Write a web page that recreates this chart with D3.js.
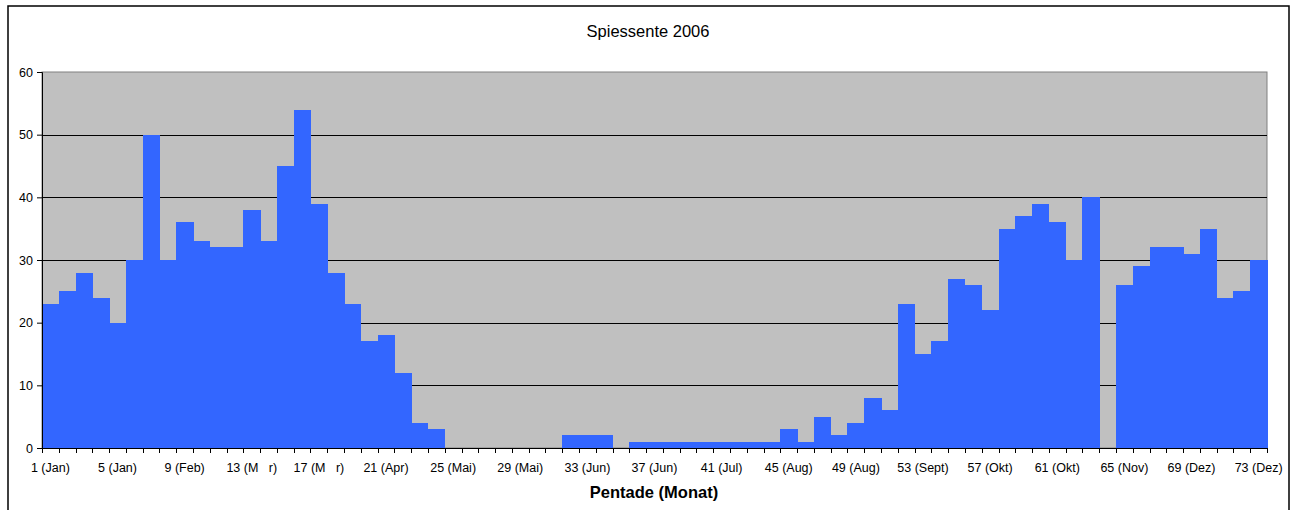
<!DOCTYPE html>
<html>
<head>
<meta charset="utf-8">
<script src="https://cdn.jsdelivr.net/npm/d3@7"></script>
<style>
  body { margin: 0; background: #fff; }
  svg { font-family: "Liberation Sans", Arial, sans-serif; }
</style>
</head>
<body>
<svg id="chart"></svg>
<script>
const pentads = d3.range(1, 74);
const counts = [23, 25, 28, 24, 20, 30, 50, 30, 36, 33, 32, 32, 38, 33, 45, 54, 39, 28, 23, 17,
  18, 12, 4, 3, 0, 0, 0, 0, 0, 0, 0, 2, 2, 2, 0, 1, 1, 1, 1, 1,
  1, 1, 1, 1, 3, 1, 5, 2, 4, 8, 6, 23, 15, 17, 27, 26, 22, 35, 37, 39,
  36, 30, 40, 0, 26, 29, 32, 32, 31, 35, 24, 25, 30];
const tickLabels = {
  1: "1 (Jan)", 5: "5 (Jan)", 9: "9 (Feb)", 13: "13 (M\u00a0\u00a0\u00a0r)", 17: "17 (M\u00a0\u00a0\u00a0r)",
  21: "21 (Apr)", 25: "25 (Mai)", 29: "29 (Mai)", 33: "33 (Jun)", 37: "37 (Jun)",
  41: "41 (Jul)", 45: "45 (Aug)", 49: "49 (Aug)", 53: "53 (Sept)", 57: "57 (Okt)",
  61: "61 (Okt)", 65: "65 (Nov)", 69: "69 (Dez)", 73: "73 (Dez)"
};
const yTicks = [0, 10, 20, 30, 40, 50, 60];

const width = 1295;
const height = 510;
const plot = { left: 42, right: 1267, top: 72, bottom: 448 };

const svg = d3.select("#chart").attr("width", width).attr("height", height);

// outer chart frame (bottom edge is cut off)
svg.append("path")
  .attr("d", `M8,${height} V6 H1289 V${height}`)
  .attr("fill", "none")
  .attr("stroke", "#000")
  .attr("stroke-width", 1.5);

svg.append("text")
  .attr("x", 648).attr("y", 37)
  .attr("text-anchor", "middle")
  .attr("font-size", 16.5)
  .text("Spiessente 2006");

const xScale = d3.scaleBand()
  .domain(pentads)
  .range([plot.left, plot.right])
  .padding(0);

const yScale = d3.scaleLinear()
  .domain([0, 60])
  .range([plot.bottom, plot.top]);

svg.append("rect")
  .attr("x", plot.left).attr("y", plot.top)
  .attr("width", plot.right - plot.left).attr("height", plot.bottom - plot.top)
  .attr("fill", "#c0c0c0")
  .attr("stroke", "#808080");

svg.append("g")
  .selectAll("line")
  .data(yTicks.filter((d) => d > 0 && d < 60))
  .enter()
  .append("line")
  .attr("x1", plot.left).attr("x2", plot.right)
  .attr("y1", (d) => Math.round(yScale(d)) + 0.5)
  .attr("y2", (d) => Math.round(yScale(d)) + 0.5)
  .attr("stroke", "#000");

svg.append("g")
  .attr("shape-rendering", "crispEdges")
  .selectAll("rect")
  .data(counts)
  .enter()
  .append("rect")
  .attr("x", (d, i) => xScale(pentads[i]))
  .attr("y", (d) => yScale(d))
  .attr("width", xScale.bandwidth() + 0.5)
  .attr("height", (d) => plot.bottom - yScale(d))
  .attr("fill", "#3366ff");

// y axis
const yAxis = d3.axisLeft(yScale).tickValues(yTicks).tickSize(5).tickPadding(4);
const gy = svg.append("g")
  .attr("transform", `translate(${plot.left}, 0)`)
  .call(yAxis);
gy.selectAll("path, line").attr("stroke", "#000");
gy.selectAll("text").attr("font-size", 12.5).attr("font-family", "Liberation Sans, Arial, sans-serif").attr("fill", "#000");

// x axis: ticks at band boundaries, labels every 4th pentad
const gx = svg.append("g").attr("transform", `translate(0, ${plot.bottom})`);
gx.append("line")
  .attr("x1", plot.left).attr("x2", plot.right)
  .attr("y1", 0.5).attr("y2", 0.5)
  .attr("stroke", "#000");
gx.selectAll("line.tick")
  .data(d3.range(0, 74))
  .enter()
  .append("line")
  .attr("class", "tick")
  .attr("x1", (d) => Math.round(plot.left + d * xScale.step()) + 0.5)
  .attr("x2", (d) => Math.round(plot.left + d * xScale.step()) + 0.5)
  .attr("y1", 0).attr("y2", 5)
  .attr("stroke", "#000");
gx.selectAll("text")
  .data(pentads.filter((p) => tickLabels[p]))
  .enter()
  .append("text")
  .attr("x", (d) => xScale(d) + xScale.bandwidth() / 2)
  .attr("y", 24)
  .attr("text-anchor", "middle")
  .attr("font-size", 12.5)
  .text((d) => tickLabels[d]);

svg.append("text")
  .attr("x", 654).attr("y", 498)
  .attr("text-anchor", "middle")
  .attr("font-size", 16.5)
  .attr("font-weight", "bold")
  .text("Pentade (Monat)");
</script>
</body>
</html>
